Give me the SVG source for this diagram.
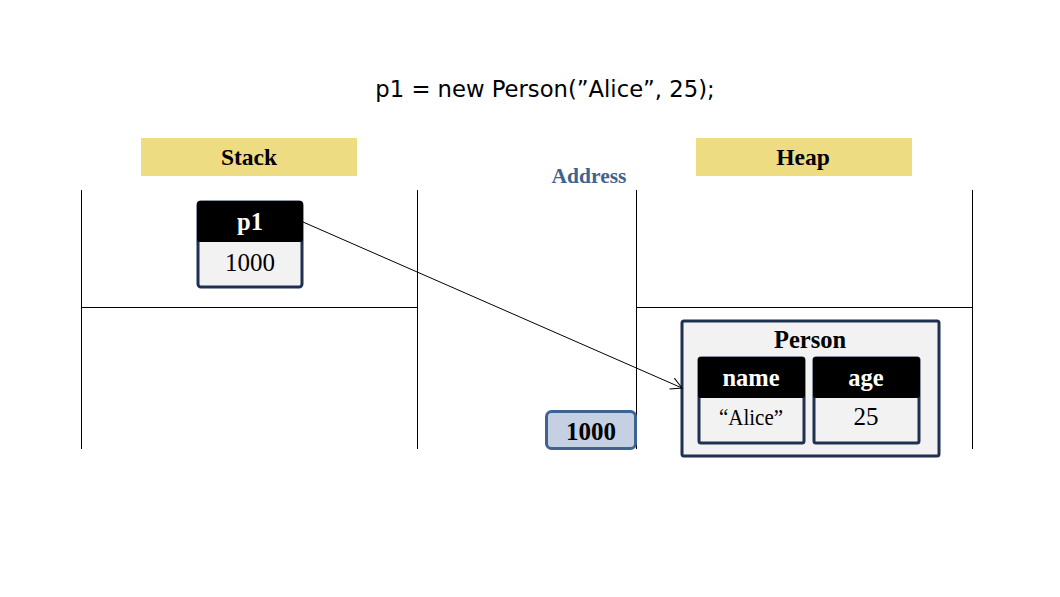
<svg xmlns="http://www.w3.org/2000/svg" width="1060" height="597" viewBox="0 0 1060 597">
<defs>
<style>
.lbl{fill:#EEDC82}
.ser{font-family:"Liberation Serif","DejaVu Serif",serif}
.b{font-weight:bold}
.ln{stroke:#000;stroke-width:1;fill:none}
.box{fill:#F2F2F2;stroke:#1F3050;stroke-width:3}
.hdr{fill:#000}
</style>
<marker id="ah" markerWidth="14" markerHeight="14" refX="12" refY="7" orient="auto" markerUnits="userSpaceOnUse">
<path d="M1,1 L12,7 L1,13" fill="none" stroke="#000" stroke-width="1"/>
</marker>
</defs>
<rect width="1060" height="597" fill="#fff"/>
<text x="545" y="97" text-anchor="middle" font-family="'DejaVu Sans','Open Sans',sans-serif" font-size="22.7" fill="#000">p1 = new Person(”Alice”, 25);</text>
<g id="stack-label"><rect class="lbl" x="141" y="138" width="216" height="38"/><text class="ser b" x="249" y="165" text-anchor="middle" font-size="23.5">Stack</text></g>
<g id="heap-label"><rect class="lbl" x="696" y="138" width="216" height="38"/><text class="ser b" x="803" y="165" text-anchor="middle" font-size="23.5">Heap</text></g>
<g id="address-label"><text class="ser b" x="589" y="183" text-anchor="middle" font-size="21.5" fill="#3E6391">Address</text></g>
<g id="grid">
<line class="ln" x1="81.5" y1="190" x2="81.5" y2="449"/>
<line class="ln" x1="417.5" y1="190" x2="417.5" y2="449"/>
<line class="ln" x1="636.5" y1="190" x2="636.5" y2="449"/>
<line class="ln" x1="972.5" y1="190" x2="972.5" y2="449"/>
<line class="ln" x1="81" y1="307.5" x2="417" y2="307.5"/>
<line class="ln" x1="636" y1="307.5" x2="972" y2="307.5"/>
</g>
<g id="p1">
<rect class="box" x="198" y="202" width="104" height="85" rx="3"/>
<rect class="hdr" x="197" y="201" width="106" height="41" rx="3"/>
<text class="ser b" x="250" y="230" text-anchor="middle" font-size="24.5" fill="#fff">p1</text>
<text class="ser" x="250" y="271" text-anchor="middle" font-size="25">1000</text>
</g>
<g id="addr1000">
<rect x="546.5" y="411.5" width="89" height="37" rx="5" fill="#C5D0E3" stroke="#3E6391" stroke-width="3"/>
<text class="ser b" x="591" y="440" text-anchor="middle" font-size="25">1000</text>
</g>
<g id="person">
<rect class="box" x="682" y="321" width="257" height="135" rx="2"/>
<text class="ser b" x="810" y="348" text-anchor="middle" font-size="24.5">Person</text>
</g>
<g id="name">
<rect class="box" x="699" y="358" width="105" height="85" rx="2"/>
<rect class="hdr" x="698" y="357" width="107" height="41" rx="3"/>
<text class="ser b" x="751" y="386" text-anchor="middle" font-size="24.5" fill="#fff">name</text>
<text class="ser" x="751" y="425" text-anchor="middle" font-size="24" textLength="64" lengthAdjust="spacingAndGlyphs">“Alice”</text>
</g>
<g id="age">
<rect class="box" x="814" y="358" width="105" height="85" rx="2"/>
<rect class="hdr" x="813" y="357" width="107" height="41" rx="3"/>
<text class="ser b" x="866" y="386" text-anchor="middle" font-size="24.5" fill="#fff">age</text>
<text class="ser" x="866" y="425" text-anchor="middle" font-size="25">25</text>
</g>
<g id="connectors">
<line x1="303" y1="222" x2="682" y2="388" stroke="#000" stroke-width="1" marker-end="url(#ah)"/>
</g>
</svg>
